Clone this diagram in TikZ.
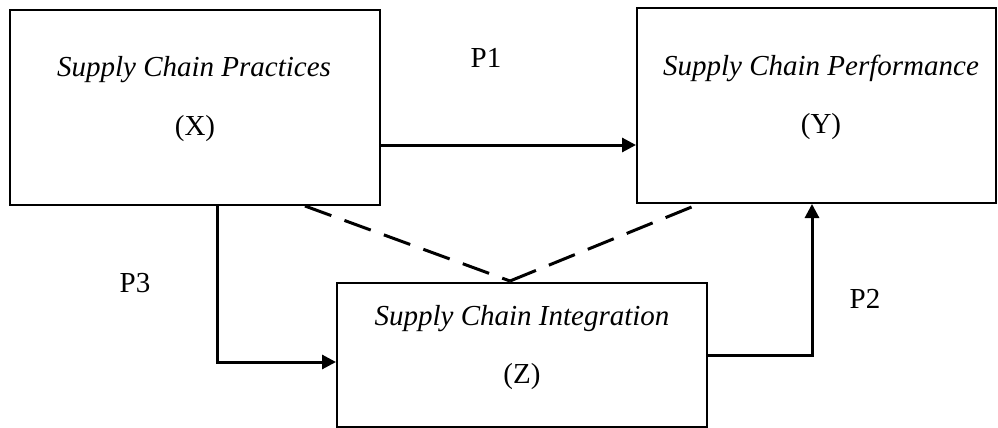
\documentclass[tikz,border=0pt]{standalone}
\usepackage{fontspec}
\setmainfont{Liberation Serif}
\usetikzlibrary{arrows.meta}
\begin{document}
\begin{tikzpicture}[x=1pt,y=-1pt,
  box/.style={draw=black,line width=2pt,fill=none,inner sep=0pt},
  lbl/.style={inner sep=0pt,anchor=base,font=\fontsize{29}{34}\selectfont},
  ttl/.style={lbl,font=\fontsize{29}{34}\selectfont\itshape},
  arr/.style={line width=3pt,-{Triangle[length=14pt,width=14pt]}},
  dsh/.style={line width=3pt,dash pattern=on 28pt off 14pt}]
\useasboundingbox (0,0) rectangle (998,428);
% boxes
\node[box,minimum width=370pt,minimum height=195pt] (X) at (195,107.5) {};
\node[box,minimum width=359pt,minimum height=195pt] (Y) at (816.5,105.5) {};
\node[box,minimum width=370pt,minimum height=144pt] (Z) at (522,355) {};
% texts
\node[ttl] (xt) at (194,77) {Supply Chain Practices};
\node[lbl] (xv) at (195,135) {(X)};
\node[ttl] (yt) at (821,75) {Supply Chain Performance};
\node[lbl] (yv) at (821,133) {(Y)};
\node[ttl] (zt) at (522,325) {Supply Chain Integration};
\node[lbl] (zv) at (522,383) {(Z)};
% path labels
\node[lbl,anchor=center] (p1) at (486,57.5) {P1};
\node[lbl,anchor=center] (p3) at (135,283) {P3};
\node[lbl,anchor=center] (p2) at (865,298.5) {P2};
% connectors
\draw[arr] ([yshift=-37.5pt]X.east) -- ([yshift=-37.5pt]X.east -| Y.west);
\draw[arr] ([xshift=208pt]X.south west) |- ([yshift=-7pt]Z.west);
\draw[arr] (Z.east) -| ([xshift=176pt]Y.south west);
% dashed links
\coordinate (d1) at ([xshift=110pt]X.south);
\coordinate (dm) at (510,281);
\coordinate (d2) at ([xshift=63pt]Y.south west);
\draw[dsh] (d1) -- (dm);
\draw[dsh] (dm) -- (d2);
\end{tikzpicture}
\end{document}
